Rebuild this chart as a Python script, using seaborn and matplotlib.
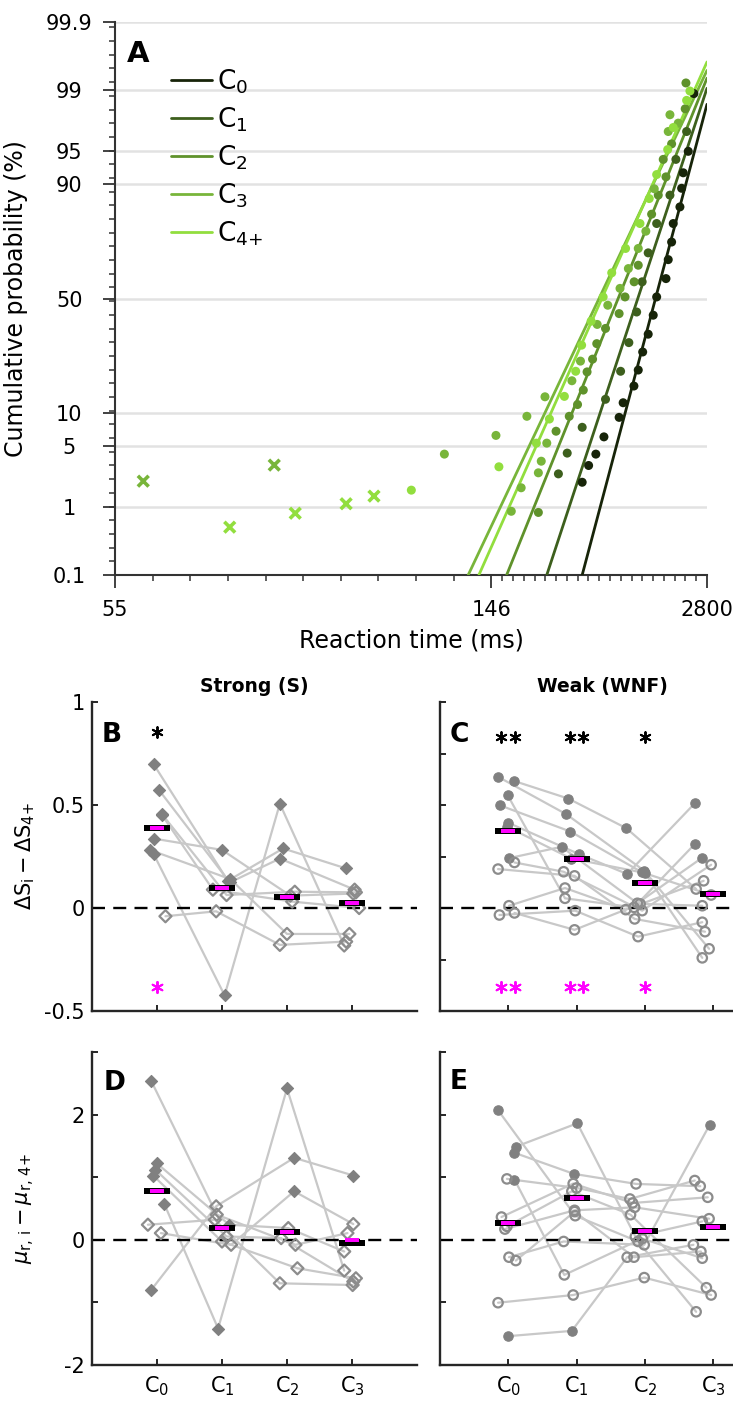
from statistics import NormalDist

import matplotlib
import matplotlib.pyplot as plt
import numpy as np
import pandas as pd
import seaborn as sns
from matplotlib.path import Path
from matplotlib.ticker import FixedLocator, NullFormatter

matplotlib.use("Agg")

sns.set_theme(style="ticks")
plt.rcParams["font.family"] = ["DejaVu Sans"]
plt.rcParams["mathtext.fontset"] = "dejavusans"
plt.rcParams["text.color"] = "black"
plt.rcParams["axes.labelcolor"] = "black"
plt.rcParams["xtick.color"] = "black"
plt.rcParams["ytick.color"] = "black"

# ---------------- panel A: reciprobit plot ----------------
groups = ["C0", "C1", "C2", "C3", "C4+"]
group_labels = [r"C$_0$", r"C$_1$", r"C$_2$", r"C$_3$", r"C$_{4{+}}$"]
group_colors = ["#172409", "#3d5f1d", "#5f922b", "#78b53a", "#92de3e"]

rt_c0 = [1330, 1085, 932, 892, 853, 728, 703, 656, 628, 534, 506, 470, 436, 412, 391, 347, 333, 289, 270, 255, 243]
pct_c0 = [98.9, 95.0, 92.0, 89.1, 84.7, 79.9, 73.6, 66.8, 58.8, 50.7, 42.6, 34.5, 27.5, 21.2, 16.4, 12.2, 9.2, 6.1, 4.1, 3.1, 2.0]
rt_c1 = [1030, 773, 679, 534, 470, 433, 404, 369, 338, 293, 243, 219, 207]
pct_c1 = [96.9, 94.0, 87.6, 79.9, 69.5, 57.4, 44.0, 31.1, 20.8, 13.0, 7.5, 4.2, 2.5]
rt_c2 = [1009, 987, 703, 628, 597, 548, 494, 412, 392, 354, 333, 293, 272, 263, 252, 245, 235, 222, 204, 184]
pct_c2 = [99.2, 98.3, 95.8, 91.3, 94.0, 87.6, 82.7, 64.5, 57.4, 50.7, 43.3, 36.9, 30.7, 24.9, 20.6, 15.3, 11.8, 9.4, 6.9, 0.84]
rt_c3 = [818, 679, 656, 514, 455, 412, 367, 336, 299, 273, 240, 226, 191, 173, 193, 149, 121, 187, 184, 168, 160]
pct_c3 = [97.5, 98.0, 96.9, 89.0, 77.4, 71.2, 63.1, 54.5, 47.0, 38.6, 24.2, 17.9, 13.6, 9.4, 5.3, 6.3, 4.1, 3.45, 2.57, 1.72, 0.87]
rt_c4 = [1148, 1030, 728, 649, 534, 477, 421, 356, 310, 287, 260, 242, 232, 215, 196, 182, 151, 108]
pct_c4 = [98.98, 98.66, 97.2, 95.2, 91.7, 86.8, 79.9, 71.2, 61.3, 50.7, 40.0, 30.1, 20.8, 13.7, 8.9, 5.3, 3.0, 1.61]

# early responses (crosses)
early_rt = [57.7, 67.9, 74.7, 78.4, 89.1, 96.3]
early_pct = [2.06, 0.53, 3.13, 0.82, 1.09, 1.36]
early_group = ["C3", "C4+", "C3", "C4+", "C4+", "C4+"]

# fitted lines: RT where the fit crosses 0.1 %, and % reached at 2800 ms
fit_rt_low = [243, 193, 156.5, 132.5, 138.4]
fit_pct_high = [98.50, 99.06, 99.31, 99.46, 99.59]
rt_min, rt_max = 55, 2800
pct_ticks = [0.1, 1, 5, 10, 50, 90, 95, 99, 99.9]
pct_tick_labels = ["0.1", "1", "5", "10", "50", "90", "95", "99", "99.9"]
rt_ticks = [55, 146, 2800]

# ---------------- panels B-E ----------------
cond_labels = [r"C$_0$", r"C$_1$", r"C$_2$", r"C$_3$"]

# B: Strong, delta S
b_vals = [[0.697, 0.132, 0.289, 0.192], [0.573, 0.124, 0.240, 0.089], [0.458, 0.063, 0.079, 0.076],
          [0.450, 0.089, 0.031, 0.000], [0.337, 0.282, 0.060, 0.070], [0.282, 0.140, -0.126, -0.126],
          [0.261, -0.424, 0.506, -0.182], [-0.040, -0.016, -0.179, -0.163]]
b_offs = [[-0.05, 0.09, -0.06, -0.09], [0.03, 0.12, -0.11, 0.04], [0.07, 0.07, 0.12, 0.06],
          [0.08, -0.14, 0.08, 0.11], [-0.05, 0.0, 0.05, 0.02], [-0.11, 0.13, 0.0, -0.04],
          [-0.05, 0.04, -0.11, -0.12], [0.13, -0.09, -0.11, -0.09]]
b_fill = [[1, 1, 1, 1], [1, 1, 1, 0], [1, 0, 0, 0], [1, 0, 0, 0],
          [1, 1, 0, 0], [1, 1, 0, 0], [1, 1, 1, 0], [0, 0, 0, 0]]
b_mean = [0.387, 0.095, 0.055, 0.023]
b_mean_mag = [0.387, 0.095, 0.055, 0.023]
b_sig = [1, 0, 0, 0]
b_star_y = [0.853, -0.384]

# C: Weak, delta S
c_vals = [[0.637, 0.455, 0.181, -0.198], [0.616, 0.531, 0.387, 0.092], [0.548, 0.047, 0.003, 0.310],
          [0.498, 0.371, 0.173, 0.063], [0.415, 0.261, 0.165, 0.508], [0.242, 0.297, 0.023, 0.242],
          [0.221, 0.176, -0.013, 0.210], [0.189, 0.156, -0.053, -0.115], [0.011, 0.097, -0.008, 0.132],
          [-0.034, -0.013, -0.139, -0.069], [-0.024, -0.106, 0.020, 0.011], [0.395, 0.240, 0.170, -0.242]]
c_offs = [[-0.15, -0.15, -0.01, -0.06], [0.09, -0.12, -0.27, -0.25], [-0.01, -0.17, -0.16, -0.27],
          [-0.12, -0.09, -0.04, -0.03], [-0.01, 0.04, -0.26, -0.27], [0.01, -0.22, -0.11, -0.17],
          [0.09, -0.19, -0.04, -0.03], [-0.15, -0.03, -0.15, -0.12], [0.01, -0.17, -0.28, -0.14],
          [-0.13, -0.02, -0.10, -0.16], [0.09, -0.03, -0.07, -0.16], [-0.02, -0.08, 0.0, -0.16]]
c_fill = [[1, 1, 1, 0], [1, 1, 1, 0], [1, 0, 0, 1], [1, 1, 1, 0], [1, 1, 1, 1], [1, 1, 0, 1],
          [0, 0, 0, 0], [0, 0, 0, 0], [0, 0, 0, 0], [0, 0, 0, 0], [0, 0, 0, 0], [1, 1, 1, 0]]
c_mean = [0.376, 0.239, 0.121, 0.066]
c_mean_mag = [0.376, 0.239, 0.121, 0.066]
c_sig = [2, 2, 1, 0]
c_star_y = [0.83, -0.384]

# D: Strong, delta mu_r
d_vals = [[2.54, 0.401, -0.080, 0.107], [1.219, 0.241, 0.187, -0.187], [1.123, 0.053, 0.027, -0.668],
          [1.027, -0.027, -0.455, -0.615], [0.578, -1.417, 2.417, -0.492], [0.241, 0.321, -0.695, -0.722],
          [0.107, -0.080, 0.775, 0.251], [-0.802, 0.535, 1.310, 1.027]]
d_offs = [[-0.09, -0.08, 0.13, -0.07], [0.0, 0.11, 0.02, -0.12], [-0.03, 0.07, -0.09, 0.02],
          [-0.06, 0.0, 0.16, 0.06], [0.11, -0.06, 0.0, -0.12], [-0.14, -0.11, -0.11, 0.01],
          [0.06, 0.14, 0.11, 0.02], [-0.09, -0.09, 0.11, 0.02]]
d_fill = [[1, 0, 0, 0], [1, 1, 0, 0], [1, 0, 0, 0], [1, 0, 0, 0],
          [1, 1, 1, 0], [0, 0, 0, 0], [0, 0, 1, 0], [1, 0, 1, 1]]
d_mean = [0.786, 0.182, 0.118, -0.053]
d_mean_mag = [0.786, 0.182, 0.118, 0.0]

# E: Weak, delta mu_r
e_vals = [[2.070, 0.385, -0.027, -1.150], [1.487, 1.861, 0.053, 0.294], [1.390, 1.053, 0.893, 0.856],
          [0.963, -0.561, 0.020, -0.294], [0.973, 0.829, 0.652, 0.947], [0.364, 0.898, 0.588, 0.679],
          [0.171, 0.471, 0.519, 0.337], [0.214, 0.775, 0.401, -0.765], [-0.278, -0.027, -0.080, 1.840],
          [-0.332, 0.450, -0.278, -0.187], [-1.005, -0.882, -0.604, -0.882], [-1.540, -1.455, -0.278, -0.080]]
e_offs = [[-0.15, -0.02, -0.10, -0.25], [0.11, 0.01, -0.14, -0.16], [0.09, -0.04, -0.13, -0.19],
          [0.09, -0.18, -0.04, -0.16], [-0.02, 0.0, -0.22, -0.27], [-0.10, -0.05, -0.18, -0.08],
          [-0.05, -0.03, -0.15, -0.06], [-0.02, -0.07, -0.21, -0.10], [0.01, -0.19, -0.01, -0.05],
          [0.11, -0.03, -0.16, -0.18], [-0.15, -0.05, -0.01, -0.03], [-0.01, -0.07, -0.26, -0.29]]
e_fill = [[1, 0, 0, 0], [1, 1, 0, 0], [1, 1, 0, 0], [1, 0, 0, 0], [0, 0, 0, 0], [0, 0, 0, 0],
          [0, 0, 0, 0], [0, 0, 0, 0], [0, 0, 0, 1], [0, 0, 0, 0], [0, 0, 0, 0], [1, 1, 0, 0]]
e_mean = [0.267, 0.668, 0.134, 0.203]
e_mean_mag = [0.267, 0.668, 0.134, 0.203]

LINE_GRAY = "#c8c8c8"
MARK_GRAY = "#808080"
OPEN_GRAY = "#8c8c8c"
MAGENTA = "#ff00ff"
AX_COLOR = "#262626"

_nd = NormalDist()
_inv = np.vectorize(_nd.inv_cdf)
_cdf = np.vectorize(_nd.cdf)


def probit(p):
    p = np.clip(np.asarray(p, dtype=float) / 100.0, 1e-12, 1 - 1e-12)
    return _inv(p)


def iprobit(z):
    return _cdf(np.asarray(z, dtype=float)) * 100.0


def recip(t):
    t = np.asarray(t, dtype=float)
    with np.errstate(divide="ignore", invalid="ignore"):
        return -1.0 / t


fig = plt.figure(figsize=(7.33, 14.02), dpi=100)
W, H = 733, 1402


def px_axes(left, top, right, bottom):
    return fig.add_axes([left / W, 1 - bottom / H, (right - left) / W, (bottom - top) / H])


axA = px_axes(115, 22, 707, 575)
axB = px_axes(92, 702, 417, 1011)
axC = px_axes(440, 702, 781.5, 1011)
axD = px_axes(92, 1052, 417, 1365)
axE = px_axes(440, 1052, 781.5, 1365)

# ---- panel A ----
palette = dict(zip(groups, group_colors))
dots = pd.concat(
    [
        pd.DataFrame({"rt": r, "pct": p, "group": g})
        for g, r, p in zip(groups, [rt_c0, rt_c1, rt_c2, rt_c3, rt_c4], [pct_c0, pct_c1, pct_c2, pct_c3, pct_c4])
    ],
    ignore_index=True,
)

for g, col, lo, hi in zip(groups, group_colors, fit_rt_low, fit_pct_high):
    sns.lineplot(x=[lo, rt_max], y=[pct_ticks[0], hi], color=col, lw=2.0,
                 estimator=None, ax=axA, legend=False, zorder=3)
fit_lines = list(axA.get_lines())

sns.scatterplot(data=dots, x="rt", y="pct", hue="group", palette=palette, s=42,
                edgecolor="none", legend=False, ax=axA, zorder=4)
axA.scatter(early_rt, early_pct, marker="x", s=60, linewidths=2.6,
            c=[palette[g] for g in early_group], zorder=4)

axA.set_xscale("function", functions=(recip, recip))
axA.set_yscale("function", functions=(probit, iprobit))
axA.set_xlim(rt_min, rt_max)
axA.set_ylim(pct_ticks[0], pct_ticks[-1])

axA.xaxis.set_major_locator(FixedLocator(rt_ticks))
axA.set_xticklabels([str(t) for t in rt_ticks])
u_minor = np.concatenate([np.linspace(1 / 55, 1 / 146, 11)[1:-1], np.linspace(1 / 146, 1 / 2800, 21)[1:-1]])
axA.xaxis.set_minor_locator(FixedLocator(1 / u_minor))
axA.xaxis.set_minor_formatter(NullFormatter())

axA.yaxis.set_major_locator(FixedLocator(pct_ticks))
axA.set_yticklabels(pct_tick_labels)
z_minor = np.arange(-3.09 + 0.153, 3.09, 0.153)
axA.yaxis.set_minor_locator(FixedLocator(iprobit(z_minor)))
axA.yaxis.set_minor_formatter(NullFormatter())

axA.yaxis.grid(True, which="major", color="#e2e2e2", lw=1.8)
axA.xaxis.grid(False)
axA.set_axisbelow(True)
sns.despine(ax=axA)
for sp in ("left", "bottom"):
    axA.spines[sp].set_color("#333333")
    axA.spines[sp].set_linewidth(1.5)
axA.tick_params(which="major", direction="out", length=9, width=1.3, colors="#333333",
                labelcolor="black", labelsize=15)
axA.tick_params(which="minor", direction="out", length=4.5, width=1.1, colors="#333333")
axA.tick_params(axis="y", which="major", pad=24)
axA.tick_params(axis="x", which="major", pad=9)
for lab in axA.get_yticklabels():
    lab.set_horizontalalignment("center")

axA.set_xlabel("Reaction time (ms)", fontsize=17)
axA.set_ylabel("Cumulative probability (%)", fontsize=17)
axA.xaxis.set_label_coords(0.5, -0.096)
axA.yaxis.set_label_coords(-0.147, 0.5)

axA.legend(handles=fit_lines, labels=group_labels, loc="upper left", bbox_to_anchor=(0.095, 0.918),
           frameon=False, fontsize=19, handlelength=1.55, handletextpad=0.2,
           labelspacing=0.36, borderaxespad=0, borderpad=0)
axA.text(0.02, 0.967, "A", transform=axA.transAxes, fontsize=21, fontweight="bold", va="top")

# ---- panels B-E ----
blk_rect = Path([(-1, -0.27), (1, -0.27), (1, 0.27), (-1, 0.27), (-1, -0.27)], closed=True)
mag_rect = Path([(-1, -0.31), (1, -0.31), (1, 0.31), (-1, 0.31), (-1, -0.31)], closed=True)
cond_x = np.arange(1, 5)


def draw_panel(ax, vals, offs, fill, marker, size, mean_blk, mean_mag, ylim, yticks, ylabels,
               sig=None, star_y=None):
    rows = []
    for s, (v, o, f) in enumerate(zip(vals, offs, fill)):
        for k in range(4):
            rows.append({"subject": s, "x": cond_x[k] + o[k], "value": v[k], "filled": bool(f[k])})
    df = pd.DataFrame(rows)
    sns.lineplot(data=df, x="x", y="value", units="subject", estimator=None, sort=False,
                 color=LINE_GRAY, lw=1.6, ax=ax, legend=False, zorder=2)
    ax.axhline(0, color="black", lw=1.7, ls=(0, (5.5, 3.5)), zorder=2.5)
    full = df[df["filled"]]
    hollow = df[~df["filled"]]
    sns.scatterplot(data=full, x="x", y="value", marker=marker, s=size, color=MARK_GRAY,
                    edgecolor=MARK_GRAY, linewidth=0.8, legend=False, ax=ax, zorder=3)
    ax.scatter(hollow["x"], hollow["value"], marker=marker, s=size, facecolors="none",
               edgecolors=OPEN_GRAY, linewidths=1.6, zorder=3)
    ax.scatter(cond_x, mean_blk, marker=blk_rect, s=342, c="black", linewidths=0, zorder=5)
    ax.scatter(cond_x, mean_mag, marker=mag_rect, s=90, c=MAGENTA, linewidths=0, zorder=6)
    if sig is not None:
        for k, n in enumerate(sig):
            if n == 0:
                continue
            xs = cond_x[k] + (np.arange(n) - (n - 1) / 2) * 0.2
            ax.scatter(xs, [star_y[0]] * n, marker=(6, 2, 0), s=60, c="black", linewidths=1.4, zorder=6)
            ax.scatter(xs, [star_y[1]] * n, marker=(6, 2, 0), s=65, c=MAGENTA, linewidths=1.4, zorder=6)
    ax.set_xlim(0, 5)
    ax.set_ylim(*ylim)
    ax.set_yticks(yticks)
    ax.set_yticklabels(ylabels)
    ax.set_xticks(cond_x)
    ax.set_xlabel("")
    ax.set_ylabel("")
    sns.despine(ax=ax)
    for sp in ("left", "bottom"):
        ax.spines[sp].set_color(AX_COLOR)
        ax.spines[sp].set_linewidth(1.7)
    ax.tick_params(direction="in", length=4.5, width=1.4, colors=AX_COLOR, labelcolor="black",
                   labelsize=15, pad=5)


draw_panel(axB, b_vals, b_offs, b_fill, "D", 38, b_mean, b_mean_mag, (-0.5, 1), [-0.5, 0, 0.5, 1],
           ["-0.5", "0", "0.5", "1"], b_sig, b_star_y)
c_ticks = np.arange(-0.5, 1.01, 0.25)
draw_panel(axC, c_vals, c_offs, c_fill, "o", 46, c_mean, c_mean_mag, (-0.5, 1), c_ticks,
           [""] * len(c_ticks), c_sig, c_star_y)
mu_ticks = [-2, -1, 0, 1, 2, 3]
draw_panel(axD, d_vals, d_offs, d_fill, "D", 38, d_mean, d_mean_mag, (-2, 3), mu_ticks,
           ["-2", "", "0", "", "2", ""])
draw_panel(axE, e_vals, e_offs, e_fill, "o", 46, e_mean, e_mean_mag, (-2, 3), mu_ticks,
           [""] * len(mu_ticks))

for ax in (axB, axC):
    ax.set_xticklabels([""] * 4)
for ax in (axD, axE):
    ax.set_xticklabels(cond_labels, fontsize=15)
    ax.tick_params(axis="x", pad=7)

axB.set_title("Strong (S)", fontsize=13.5, fontweight="bold", pad=7, x=0.5, color="black")
axC.set_title("Weak (WNF)", fontsize=13.5, fontweight="bold", pad=7, x=0.477, color="black")

axB.set_ylabel(r"$\Delta\mathrm{S}_\mathrm{i} - \Delta\mathrm{S}_{\mathrm{4{+}}}$", fontsize=15)
axD.set_ylabel(r"$\mu_{\mathrm{r,\,i}} - \mu_{\mathrm{r,\,4{+}}}$", fontsize=15)
axB.yaxis.set_label_coords(-0.17, 0.5)
axD.yaxis.set_label_coords(-0.17, 0.5)

for ax, letter, xx, yy in ((axB, "B", 0.031, 0.936), (axC, "C", 0.029, 0.936),
                           (axD, "D", 0.037, 0.942), (axE, "E", 0.029, 0.945)):
    ax.text(xx, yy, letter, transform=ax.transAxes, fontsize=19, fontweight="bold", va="top")

fig.savefig("out.png", dpi=100)
plt.close(fig)
